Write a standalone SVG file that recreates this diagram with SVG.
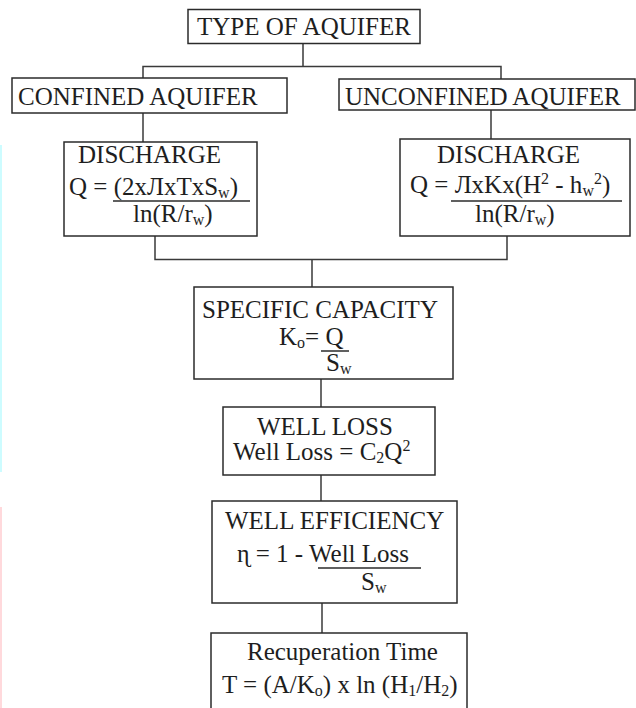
<svg xmlns="http://www.w3.org/2000/svg" width="636" height="708" viewBox="0 0 636 708">
<style>
  .box { fill: #ffffff; stroke: #2b2b2b; stroke-width: 1.5; }
  .conn { fill: none; stroke: #3a3a3a; stroke-width: 1.5; }
  .bar { stroke: #2b2b2b; stroke-width: 1.5; }
  text { font-family: "Liberation Serif", "Times New Roman", serif; font-size: 25px; fill: #1e1e1e; }
  .sub { font-size: 16px; }
</style>
<rect width="636" height="708" fill="#ffffff"/>
<rect x="0" y="145" width="2" height="327" fill="#cdfcff"/>
<rect x="0" y="507" width="2" height="201" fill="#ffd9dc"/>

<g id="connectors">
  <path class="conn" d="M303,43 V66.5 M143,78 V66.5 H501 V79"/>
  <path class="conn" d="M143,113 V142"/>
  <path class="conn" d="M491,110 V139"/>
  <path class="conn" d="M155,236 V259.5 H507 V236 M312,259.5 V287"/>
  <path class="conn" d="M321,379 V407"/>
  <path class="conn" d="M321,475 V501"/>
  <path class="conn" d="M322,603 V633"/>
</g>

<g id="type-of-aquifer">
  <rect class="box" x="188" y="9.5" width="232" height="34"/>
  <text x="197" y="35">TYPE OF AQUIFER</text>
</g>

<g id="confined-aquifer">
  <rect class="box" x="12" y="78" width="275" height="35"/>
  <text x="18" y="105">CONFINED AQUIFER</text>
</g>

<g id="unconfined-aquifer">
  <rect class="box" x="339" y="79" width="296" height="31"/>
  <text x="345" y="105">UNCONFINED AQUIFER</text>
</g>

<g id="discharge-confined">
  <rect class="box" x="64" y="142" width="193" height="94"/>
  <text x="78" y="163">DISCHARGE</text>
  <text x="69" y="195">Q = (2xЛxTxS<tspan class="sub" dy="3">w</tspan><tspan dy="-3">)</tspan></text>
  <line class="bar" x1="113" y1="201" x2="250" y2="201"/>
  <text x="133" y="222">ln(R/r<tspan class="sub" dy="3">w</tspan><tspan dy="-3">)</tspan></text>
</g>

<g id="discharge-unconfined">
  <rect class="box" x="400" y="139" width="230" height="97"/>
  <text x="437" y="163">DISCHARGE</text>
  <text x="410" y="193">Q = ЛxKx(H<tspan class="sub" dy="-9">2</tspan><tspan dy="9"> - h</tspan><tspan class="sub" dy="3">w</tspan><tspan class="sub" dy="-12">2</tspan><tspan dy="9">)</tspan></text>
  <line class="bar" x1="451" y1="201" x2="622" y2="201"/>
  <text x="475" y="222">ln(R/r<tspan class="sub" dy="3">w</tspan><tspan dy="-3">)</tspan></text>
</g>

<g id="specific-capacity">
  <rect class="box" x="194" y="287" width="259" height="92"/>
  <text x="202" y="318">SPECIFIC CAPACITY</text>
  <text x="279" y="345">K<tspan class="sub" dy="3">o</tspan><tspan dy="-3">= Q</tspan></text>
  <line class="bar" x1="321" y1="351" x2="349" y2="351"/>
  <text x="326" y="371">S<tspan class="sub" dy="3">w</tspan></text>
</g>

<g id="well-loss">
  <rect class="box" x="223" y="407" width="212" height="68"/>
  <text x="257" y="435">WELL LOSS</text>
  <text x="233" y="460">Well Loss = C<tspan class="sub" dy="3">2</tspan><tspan dy="-3">Q</tspan><tspan class="sub" dy="-9">2</tspan></text>
</g>

<g id="well-efficiency">
  <rect class="box" x="212" y="501" width="245" height="102"/>
  <text x="225" y="529">WELL EFFICIENCY</text>
  <text x="237" y="562">ɳ = 1 - Well Loss</text>
  <line class="bar" x1="318" y1="568" x2="421" y2="568"/>
  <text x="361" y="590">S<tspan class="sub" dy="3">w</tspan></text>
</g>

<g id="recuperation-time">
  <rect class="box" x="211" y="633" width="256" height="90"/>
  <text x="247" y="660">Recuperation Time</text>
  <text x="222" y="693">T = (A/K<tspan class="sub" dy="3">o</tspan><tspan dy="-3">) x ln (H</tspan><tspan class="sub" dy="3">1</tspan><tspan dy="-3">/H</tspan><tspan class="sub" dy="3">2</tspan><tspan dy="-3">)</tspan></text>
</g>
</svg>
